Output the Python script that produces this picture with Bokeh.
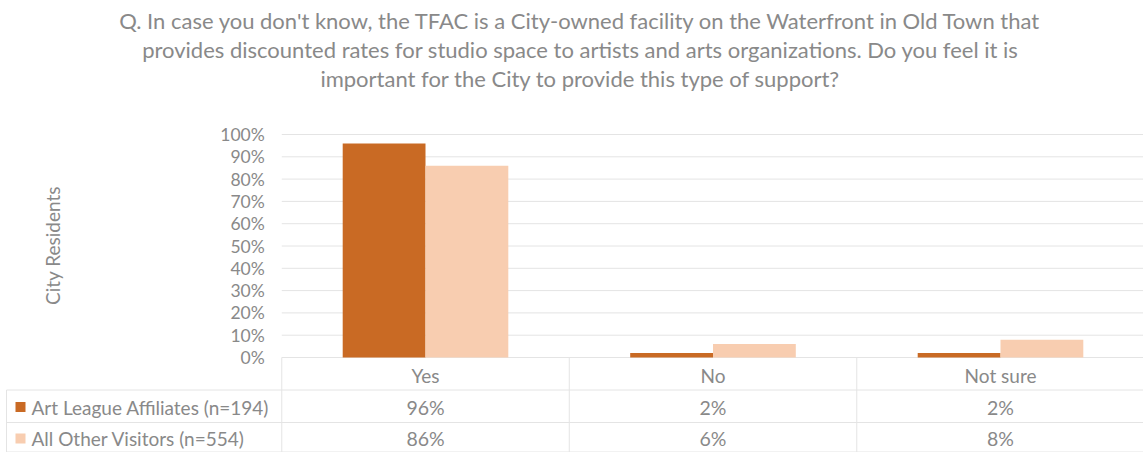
import numpy as np
from bokeh.plotting import figure
from bokeh.models import Range1d, LinearAxis, FixedTicker, NumeralTickFormatter
from bokeh.core.properties import value
from bokeh.embed import file_html
from bokeh.resources import INLINE

# ---------------- data ----------------
title_lines = [
    "Q. In case you don't know, the TFAC is a City-owned facility on the Waterfront in Old Town that",
    "provides discounted rates for studio space to artists and arts organizations. Do you feel it is",
    "important for the City to provide this type of support?",
]
categories = ["Yes", "No", "Not sure"]
series_names = ["Art League Affiliates (n=194)", "All Other Visitors (n=554)"]
art_league = [96, 2, 2]
other_visitors = [86, 6, 8]
y_ticks = [0, 10, 20, 30, 40, 50, 60, 70, 80, 90, 100]
y_label = "City Residents"
series_colors = ["#C96A24", "#F8CDB0"]

# ---------------- style ----------------
FONT = "Lato"
TEXT = "#898989"
GRID = "#e4e4e4"
W, H = 1143, 452

# x: one unit per category, y: fraction (1.0 = 100%)
x0_px, unit_px = 425, 287.5     # canvas x of first category center, px per category
y0_px, yunit_px = 357, 223.0    # canvas y of 0%, px per 100%
x_start = -x0_px / unit_px
x_end = x_start + W / unit_px
y_end = y0_px / yunit_px
y_start = y_end - H / yunit_px

def px_x(px):
    return (px - x0_px) / unit_px

def px_y(py):
    return (y0_px - py) / yunit_px

p = figure(width=W, height=H, x_range=Range1d(x_start, x_end), y_range=Range1d(y_start, y_end),
           x_axis_location=None, y_axis_location=None, toolbar_location=None,
           output_backend="svg", min_border=0, outline_line_color=None,
           background_fill_color="white", border_fill_color="white")
p.grid.visible = False

n = len(categories)
idx = np.arange(n)
axis_x = -0.5
row1_y = px_y(389.5)
row2_y = px_y(422)
bottom_y = y_start + 0.5 / yunit_px
left_x = px_x(6)

# gridlines
ticks = np.array(y_ticks) / 100.0
p.segment(x0=[axis_x] * len(ticks), x1=[x_end] * len(ticks), y0=ticks, y1=ticks,
          line_color=GRID, line_width=1)

# table lines
vx = [axis_x + i for i in range(n)]
p.segment(x0=vx, x1=vx, y0=[0] * n, y1=[bottom_y] * n, line_color=GRID, line_width=1)
p.segment(x0=[left_x], x1=[left_x], y0=[row1_y], y1=[bottom_y], line_color=GRID, line_width=1)
p.segment(x0=[left_x] * 3, x1=[x_end] * 3, y0=[row1_y, row2_y, bottom_y],
          y1=[row1_y, row2_y, bottom_y], line_color=GRID, line_width=1)

# bars
bw = 0.288
p.vbar(x=idx - bw / 2, top=np.array(art_league) / 100.0, bottom=0, width=bw,
       fill_color=series_colors[0], line_color=None)
p.vbar(x=idx + bw / 2, top=np.array(other_visitors) / 100.0, bottom=0, width=bw,
       fill_color=series_colors[1], line_color=None)

# y axis
ax = LinearAxis(fixed_location=axis_x, ticker=FixedTicker(ticks=list(ticks)),
                formatter=NumeralTickFormatter(format="0%"),
                axis_line_color=None, major_tick_line_color=None, minor_tick_line_color=None,
                major_tick_out=0, major_tick_in=0, major_label_standoff=17,
                major_label_text_color=TEXT, major_label_text_font=FONT,
                major_label_text_font_size="17.5px")
p.add_layout(ax, "left")

# y axis title
p.text(x=[px_x(52)], y=[px_y(245)], text=[y_label], angle=np.pi / 2,
       text_align="center", text_baseline="middle", text_color=TEXT,
       text_font=value(FONT), text_font_size="19px")

# title
ty = [px_y(20), px_y(49), px_y(78)]
p.text(x=[px_x(580)] * 3, y=ty, text=title_lines, text_align="center", text_baseline="middle",
       text_color=TEXT, text_font=value(FONT), text_font_size="22px")

# table: category row
p.text(x=idx, y=[px_y(375)] * n, text=categories, text_align="center", text_baseline="middle",
       text_color=TEXT, text_font=value(FONT), text_font_size="19px")
# value rows
p.text(x=idx, y=[px_y(406.5)] * n, text=[f"{v}%" for v in art_league], text_align="center",
       text_baseline="middle", text_color=TEXT, text_font=value(FONT), text_font_size="19.5px")
p.text(x=idx, y=[px_y(438)] * n, text=[f"{v}%" for v in other_visitors], text_align="center",
       text_baseline="middle", text_color=TEXT, text_font=value(FONT), text_font_size="19.5px")

# legend keys + names
p.scatter(x=[px_x(20)] * 2, y=[px_y(406.5), px_y(438)], marker="square", size=10,
          fill_color=series_colors, line_color=None)
p.text(x=[px_x(31)] * 2, y=[px_y(406.5), px_y(438)], text=series_names, text_align="left",
       text_baseline="middle", text_color=TEXT, text_font=value(FONT), text_font_size="19px")

open("out.html", "w").write(file_html(p, INLINE))
